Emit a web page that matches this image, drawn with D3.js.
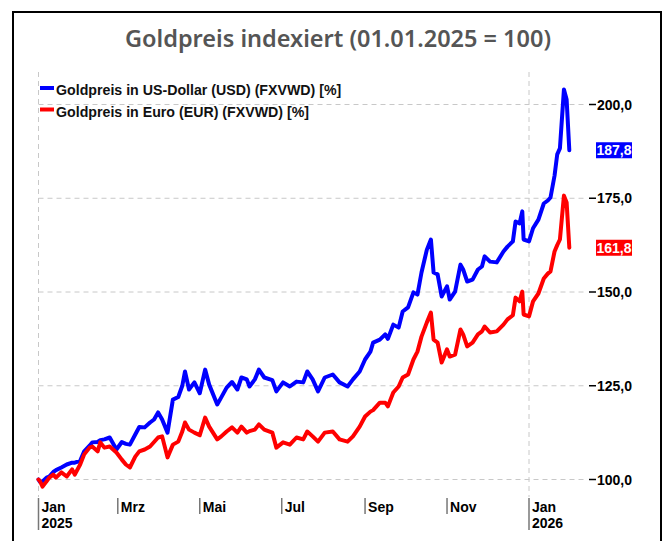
<!DOCTYPE html>
<html>
<head>
<meta charset="utf-8">
<script src="https://cdn.jsdelivr.net/npm/d3@7"></script>
<style>
  body { margin: 0; background: #fff; }
  svg { display: block; }
</style>
</head>
<body>
<svg id="chart"></svg>
<script>
// values (index, 01.01.2025 = 100)
const dates = [
  "2025-01-01","2025-01-02","2025-01-04","2025-01-07","2025-01-09","2025-01-12","2025-01-14","2025-01-18",
  "2025-01-22","2025-01-26","2025-01-28","2025-02-01","2025-02-04","2025-02-08","2025-02-10","2025-02-14",
  "2025-02-16","2025-02-19","2025-02-23","2025-02-28","2025-03-04","2025-03-07","2025-03-10","2025-03-14",
  "2025-03-17","2025-03-21","2025-03-25","2025-03-28","2025-03-31","2025-04-03","2025-04-07","2025-04-11",
  "2025-04-15","2025-04-18","2025-04-20","2025-04-23","2025-04-27","2025-05-01","2025-05-05","2025-05-08",
  "2025-05-14","2025-05-17","2025-05-21","2025-05-25","2025-05-29","2025-06-01","2025-06-05","2025-06-07",
  "2025-06-11","2025-06-14","2025-06-18","2025-06-24","2025-06-27","2025-07-02","2025-07-07","2025-07-12",
  "2025-07-17","2025-07-20","2025-07-24","2025-07-28","2025-08-02","2025-08-08","2025-08-13","2025-08-19",
  "2025-08-23","2025-08-28","2025-09-01","2025-09-05","2025-09-07","2025-09-12","2025-09-16","2025-09-18",
  "2025-09-22","2025-09-26","2025-09-29","2025-10-03","2025-10-07","2025-10-10","2025-10-13","2025-10-17",
  "2025-10-20","2025-10-22","2025-10-25","2025-10-28","2025-11-01","2025-11-03","2025-11-07","2025-11-11",
  "2025-11-13","2025-11-16","2025-11-20","2025-11-24","2025-11-27","2025-11-29","2025-12-03","2025-12-08",
  "2025-12-13","2025-12-16","2025-12-20","2025-12-22","2025-12-25","2025-12-27","2025-12-28","2026-01-01",
  "2026-01-04","2026-01-08","2026-01-12","2026-01-15","2026-01-17","2026-01-20","2026-01-22","2026-01-24",
  "2026-01-27","2026-01-29","2026-01-31"
];

const usd = [
  100.0, 99.4, 99.5, 100.5, 100.8, 102.0, 102.5, 103.2,
  104.0, 104.5, 104.5, 105.0, 107.5, 109.0, 109.9, 110.0,
  110.5, 110.7, 111.2, 108.0, 110.0, 109.5, 109.3, 112.0,
  114.0, 113.9, 115.2, 116.0, 117.9, 116.0, 112.5, 121.3,
  122.0, 125.0, 128.8, 124.0, 125.9, 123.0, 129.3, 125.3,
  120.0, 121.9, 124.5, 126.0, 124.0, 127.2, 126.7, 124.8,
  126.7, 129.3, 127.2, 126.5, 123.5, 125.9, 124.8, 126.1,
  125.9, 128.8, 126.7, 123.5, 127.2, 128.0, 125.9, 124.8,
  126.7, 128.8, 132.0, 134.1, 136.5, 137.3, 138.7, 137.5,
  141.3, 140.5, 144.8, 145.9, 149.9, 149.3, 155.2, 161.3,
  164.0, 155.2, 154.7, 148.8, 151.5, 148.0, 150.1, 157.3,
  156.0, 152.8, 153.3, 156.0, 156.8, 159.5, 158.1, 157.9,
  160.8, 162.1, 163.5, 168.8, 168.3, 171.5, 164.0, 163.5,
  167.0, 169.3, 173.6, 174.4, 175.2, 181.0, 186.7, 188.3,
  204.0, 201.3, 187.8
];

const eur = [
  100.0, 99.6, 98.1, 99.5, 100.5, 101.3, 100.5, 101.9,
  100.8, 102.7, 101.3, 104.0, 106.7, 108.5, 108.8, 107.5,
  109.9, 108.5, 108.8, 107.2, 105.3, 104.0, 103.2, 106.1,
  107.5, 108.0, 108.8, 110.0, 111.2, 111.5, 105.9, 109.3,
  110.1, 112.8, 115.2, 113.3, 112.5, 111.8, 116.5, 114.1,
  110.7, 111.5, 112.8, 113.9, 112.5, 114.1, 112.5, 112.9,
  113.3, 114.7, 113.3, 112.5, 108.5, 109.9, 109.3, 111.2,
  110.7, 112.8, 111.5, 110.1, 112.5, 112.8, 110.7, 110.1,
  111.5, 114.1, 116.8, 118.1, 118.5, 120.5, 120.5, 119.5,
  123.2, 124.8, 127.2, 128.0, 132.0, 134.1, 138.1, 141.9,
  144.5, 137.3, 136.5, 131.2, 134.7, 132.8, 133.3, 140.0,
  138.7, 135.5, 136.5, 138.7, 139.5, 140.8, 139.2, 139.5,
  141.3, 142.7, 143.8, 148.5, 147.5, 150.1, 144.0, 143.5,
  147.5, 149.6, 153.6, 154.9, 155.5, 160.8, 162.5, 164.0,
  175.7, 173.9, 161.8
];

const seriesNames = ["Goldpreis in US-Dollar (USD) (FXVWD) [%]", "Goldpreis in Euro (EUR) (FXVWD) [%]"];
const seriesColors = ["#0000ff", "#ff0000"];
const yTicks = [100, 125, 150, 175, 200];
const monthTicks = ["2025-01-01","2025-03-01","2025-05-01","2025-07-01","2025-09-01","2025-11-01","2026-01-01"];
const monthLabels = ["Jan","Mrz","Mai","Jul","Sep","Nov","Jan"];
const yearLabels = ["2025","","","","","","2026"];
const yearGrid = ["2025-01-01","2026-01-01"];

const W = 665, H = 541;
const parse = d3.timeParse("%Y-%m-%d");
const fmt = d3.format(".1f");
const deNum = v => fmt(v).replace(".", ",");

const svg = d3.select("#chart")
  .attr("width", W)
  .attr("height", H);

const x = d3.scaleTime()
  .domain([parse("2025-01-01"), parse("2026-01-01")])
  .range([38.5, 529]);

const y = d3.scaleLinear()
  .domain([100, 200])
  .range([479.5, 104.5]);

// frame
svg.append("rect")
  .attr("x", 13).attr("y", 12)
  .attr("width", 648).attr("height", 600)
  .attr("fill", "none")
  .attr("stroke", "#000")
  .attr("stroke-width", 2);

// title
svg.append("text")
  .attr("x", 338)
  .attr("y", 47)
  .attr("text-anchor", "middle")
  .attr("textLength", 426)
  .attr("lengthAdjust", "spacingAndGlyphs")
  .style("font-family", "'Noto Sans', sans-serif")
  .style("font-weight", 600)
  .style("font-size", "23px")
  .style("fill", "#555")
  .text("Goldpreis indexiert (01.01.2025 = 100)");

// horizontal grid
svg.append("g")
  .selectAll("line")
  .data(yTicks)
  .enter().append("line")
    .attr("x1", 38.5).attr("x2", 586)
    .attr("y1", d => y(d)).attr("y2", d => y(d))
    .attr("stroke", "#c8c8c8")
    .attr("stroke-dasharray", "5,4");

// vertical grid at year change
svg.append("g")
  .selectAll("line")
  .data(yearGrid)
  .enter().append("line")
    .attr("x1", d => x(parse(d))).attr("x2", d => x(parse(d)))
    .attr("y1", 72).attr("y2", 497)
    .attr("stroke", "#c8c8c8")
    .attr("stroke-dasharray", "5,4");

// y axis on the right
const yAxis = svg.append("g")
  .style("font-family", "'Liberation Sans', Arial, sans-serif")
  .style("font-weight", "bold")
  .style("font-size", "14px");

yAxis.selectAll("line")
  .data(yTicks)
  .enter().append("line")
    .attr("x1", 589).attr("x2", 596)
    .attr("y1", d => y(d)).attr("y2", d => y(d))
    .attr("stroke", "#000")
    .attr("stroke-width", 1.5);

yAxis.selectAll("text")
  .data(yTicks)
  .enter().append("text")
    .attr("x", 597)
    .attr("y", d => y(d))
    .attr("dy", "0.36em")
    .style("fill", "#000")
    .text(d => deNum(d));

// x axis month ticks
const xAxis = svg.append("g")
  .style("font-family", "'Liberation Sans', Arial, sans-serif")
  .style("font-weight", "bold")
  .style("font-size", "14px");

const mt = xAxis.selectAll("g")
  .data(monthTicks)
  .enter().append("g")
    .attr("transform", d => `translate(${x(parse(d))},0)`);

mt.append("line")
  .attr("y1", 498)
  .attr("y2", (d, i) => yearLabels[i] ? 530 : 514)
  .attr("stroke", "#777")
  .attr("stroke-width", 1.5);

mt.append("text")
  .attr("x", 3).attr("y", 512)
  .style("fill", "#000")
  .text((d, i) => monthLabels[i]);

mt.append("text")
  .attr("x", 3).attr("y", 528)
  .style("fill", "#000")
  .text((d, i) => yearLabels[i]);

// lines
const allSeries = [usd, eur];
const line = d3.line()
  .x((d, i) => x(parse(dates[i])))
  .y(d => y(d));

svg.append("g")
  .selectAll("path")
  .data(allSeries)
  .enter().append("path")
    .attr("d", d => line(d))
    .attr("fill", "none")
    .attr("stroke", (d, i) => seriesColors[i])
    .attr("stroke-width", 4)
    .attr("stroke-linejoin", "round")
    .attr("stroke-linecap", "round");

// last value boxes
const lastBox = svg.append("g")
  .selectAll("g")
  .data(allSeries)
  .enter().append("g")
    .attr("transform", d => `translate(614,${y(d[d.length - 1])})`);

lastBox.append("rect")
  .attr("x", -18).attr("y", -8)
  .attr("width", 36).attr("height", 16)
  .attr("fill", (d, i) => seriesColors[i]);

lastBox.append("text")
  .attr("text-anchor", "middle")
  .attr("dy", "0.36em")
  .style("font-family", "'Liberation Sans', Arial, sans-serif")
  .style("font-weight", "bold")
  .style("font-size", "14px")
  .style("fill", "#fff")
  .text(d => deNum(d[d.length - 1]));

// legend
const legend = svg.selectAll(".legend")
  .data(seriesNames)
  .enter().append("g")
    .attr("class", "legend")
    .attr("transform", (d, i) => `translate(40,${88 + i * 21.5})`);

legend.append("line")
  .attr("x1", 0).attr("x2", 14)
  .attr("stroke", (d, i) => seriesColors[i])
  .attr("stroke-width", 4);

legend.append("text")
  .attr("x", 16)
  .attr("y", 2)
  .attr("dy", "0.36em")
  .style("font-family", "'Liberation Sans', Arial, sans-serif")
  .style("font-weight", "bold")
  .style("font-size", "14.2px")
  .style("fill", "#111")
  .text(d => d);
</script>
</body>
</html>
